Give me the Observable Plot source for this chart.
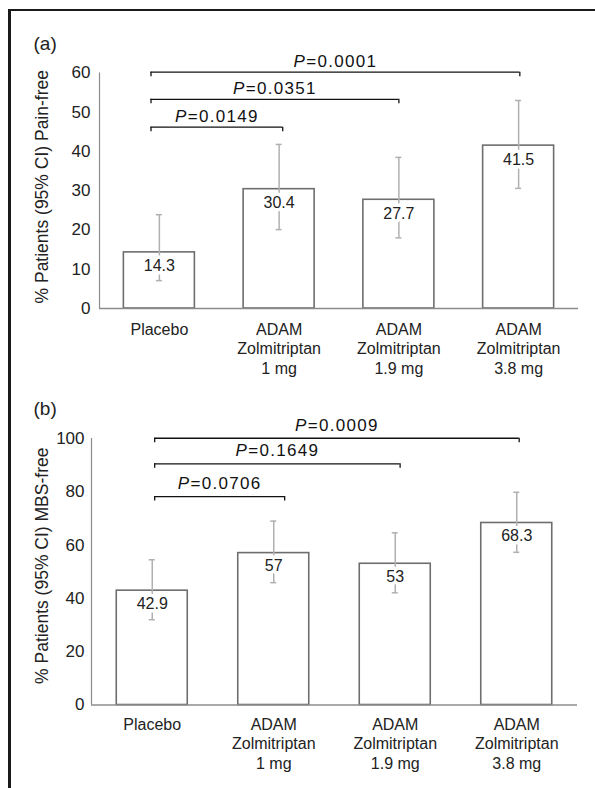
<!DOCTYPE html>
<html>
<head>
<meta charset="utf-8">
<script src="https://cdn.jsdelivr.net/npm/d3@7"></script>
<script src="https://cdn.jsdelivr.net/npm/@observablehq/plot@0.6"></script>
<style>
  body { margin: 0; background: #fff; }
  #wrap { position: relative; width: 595px; height: 788px; overflow: hidden; }
  #wrap svg { display: block; }
  #frame { position: absolute; left: 8px; top: 9px; width: 587px; height: 779px; box-sizing: border-box;
           border-left: 3px solid #1a1a1a; border-top: 2px solid #1a1a1a; pointer-events: none; z-index: 5; }
</style>
</head>
<body>
<div id="wrap"></div>
<script>
// ---- data ----
const categories = ["Placebo", "ADAM\nZolmitriptan\n1 mg", "ADAM\nZolmitriptan\n1.9 mg", "ADAM\nZolmitriptan\n3.8 mg"];
const comparedWith = [1, 2, 3]; // each P value compares Placebo (index 0) with this category

const painFree = [14.3, 30.4, 27.7, 41.5];
const painFreeLow = [7.1, 20.1, 18.0, 30.6];
const painFreeHigh = [23.9, 41.8, 38.5, 53.0];
const painFreePValues = ["0.0149", "0.0351", "0.0001"];
const painFreeBracketLevels = [46.2, 53.3, 60.2];
const painFreeTicks = [0, 10, 20, 30, 40, 50, 60];

const mbsFree = [42.9, 57, 53, 68.3];
const mbsFreeLow = [32.0, 45.9, 42.1, 57.3];
const mbsFreeHigh = [54.5, 69.0, 64.6, 79.8];
const mbsFreePValues = ["0.0706", "0.1649", "0.0009"];
const mbsFreeBracketLevels = [78.2, 90.5, 100.1];
const mbsFreeTicks = [0, 20, 40, 60, 80, 100];

// ---- drawing ----
const W = 595;
const FONT = "'Liberation Sans', Arial, Helvetica, sans-serif";

function panel(cfg) {
  const n = categories.length;
  const pxX = (W - cfg.marginLeft - cfg.marginRight) / n;
  const pxY = (cfg.height - cfg.marginTop - cfg.marginBottom) / cfg.yMax;
  const rows = categories.map((c, i) => ({i, v: cfg.values[i], lo: cfg.low[i], hi: cfg.high[i]}));
  const br = cfg.pValues.map((p, k) => ({
    x1: cfg.bracketLeft, x2: comparedWith[k] + cfg.bracketRight[k], y: cfg.levels[k], p
  }));
  const tickU = 4.5 / pxY;
  const capU = 3 / pxX;
  const barHalf = 35.5 / pxX;
  const grey = "#8c8c8c", err = "#b0b0b0";
  return Plot.plot({
    width: W, height: cfg.height,
    marginTop: cfg.marginTop, marginBottom: cfg.marginBottom,
    marginLeft: cfg.marginLeft, marginRight: cfg.marginRight,
    style: {fontFamily: FONT, fontSize: "17px", color: "#222", background: "transparent"},
    x: {domain: [-0.5, n - 0.5], axis: null},
    y: {domain: [0, cfg.yMax], ticks: cfg.yTicks, tickSize: 0, tickPadding: cfg.tickPadding, label: null},
    marks: [
      Plot.rectY(rows, {x1: d => d.i - barHalf, x2: d => d.i + barHalf, y1: 0, y2: "v",
        fill: "white", stroke: "#6e6e6e", strokeWidth: 1.6}),
      Plot.ruleY([0], {stroke: grey, strokeWidth: 1.3}),
      Plot.ruleX([-0.5], {stroke: grey, strokeWidth: 1.2}),
      Plot.ruleX(rows, {x: "i", y1: "lo", y2: "hi", stroke: err, strokeWidth: 1.5}),
      Plot.ruleY(rows, {y: "lo", x1: d => d.i - capU, x2: d => d.i + capU, stroke: err, strokeWidth: 1.5}),
      Plot.ruleY(rows, {y: "hi", x1: d => d.i - capU, x2: d => d.i + capU, stroke: err, strokeWidth: 1.5}),
      Plot.text(rows, {x: "i", y: "v", dy: cfg.valueDy, text: d => String(d.v), fontSize: 16,
        fill: "#222", stroke: "white", strokeWidth: 7}),
      Plot.ruleY(br, {y: "y", x1: "x1", x2: "x2", stroke: "#111", strokeWidth: 1.3}),
      Plot.ruleX(br, {x: "x1", y1: "y", y2: d => d.y - tickU, stroke: "#111", strokeWidth: 1.3}),
      Plot.ruleX(br, {x: "x2", y1: "y", y2: d => d.y - tickU, stroke: "#111", strokeWidth: 1.3}),
      Plot.text(br, {x: d => (d.x1 + d.x2) / 2, y: "y", dy: cfg.pDy, text: d => "P=" + d.p,
        fontSize: 17, fill: "#111"}),
      Plot.text(categories, {x: (d, i) => i, frameAnchor: "bottom", lineAnchor: "top",
        dy: cfg.catDy, lineHeight: 1.2, fontSize: 16, fill: "#222", text: d => d}),
      Plot.text([cfg.title], {frameAnchor: "left", textAnchor: "middle", lineAnchor: "middle",
        rotate: -90, dx: cfg.titleDx, dy: cfg.titleDy,
        fontSize: 17.5, fill: "#222", text: d => d}),
      Plot.text([cfg.tag], {frameAnchor: "top-left", textAnchor: "start", lineAnchor: "middle",
        dx: cfg.tagDx, dy: cfg.tagDy, fontSize: 19, fill: "#222", text: d => d})
    ]
  });
}

const chartA = panel({
  values: painFree, low: painFreeLow, high: painFreeHigh, pValues: painFreePValues,
  levels: painFreeBracketLevels, yMax: 60, yTicks: painFreeTicks,
  height: 380, marginTop: 72.5, marginBottom: 72, marginLeft: 99, marginRight: 17,
  tickPadding: 9, bracketLeft: -0.07, bracketRight: [0.03, 0.0, 0.01],
  valueDy: 14, pDy: -10.5, catDy: 13,
  title: "% Patients (95% CI) Pain-free", titleDx: -57, titleDy: -4,
  tag: "(a)", tagDx: -66, tagDy: -29.5
});

const chartB = panel({
  values: mbsFree, low: mbsFreeLow, high: mbsFreeHigh, pValues: mbsFreePValues,
  levels: mbsFreeBracketLevels, yMax: 100, yTicks: mbsFreeTicks,
  height: 408, marginTop: 58, marginBottom: 83.5, marginLeft: 91, marginRight: 18,
  tickPadding: 7, bracketLeft: 0.02, bracketRight: [0.09, 0.04, 0.02],
  valueDy: 13, pDy: -13, catDy: 11.5,
  title: "% Patients (95% CI) MBS-free", titleDx: -49, titleDy: -6,
  tag: "(b)", tagDx: -58, tagDy: -30
});

const wrap = document.getElementById("wrap");
wrap.appendChild(chartA);
wrap.appendChild(chartB);
const frame = document.createElement("div");
frame.id = "frame";
wrap.appendChild(frame);

// italic "P" in the significance labels
const NS = "http://www.w3.org/2000/svg";
wrap.querySelectorAll("text").forEach(t => {
  if (t.children.length === 0 && t.textContent.startsWith("P=")) {
    const rest = t.textContent.slice(1);
    t.textContent = "";
    const p = document.createElementNS(NS, "tspan");
    p.setAttribute("font-style", "italic");
    p.textContent = "P";
    const r = document.createElementNS(NS, "tspan");
    r.textContent = rest;
    t.appendChild(p);
    t.appendChild(r);
    t.setAttribute("letter-spacing", "1.3");
  }
});
</script>
</body>
</html>
